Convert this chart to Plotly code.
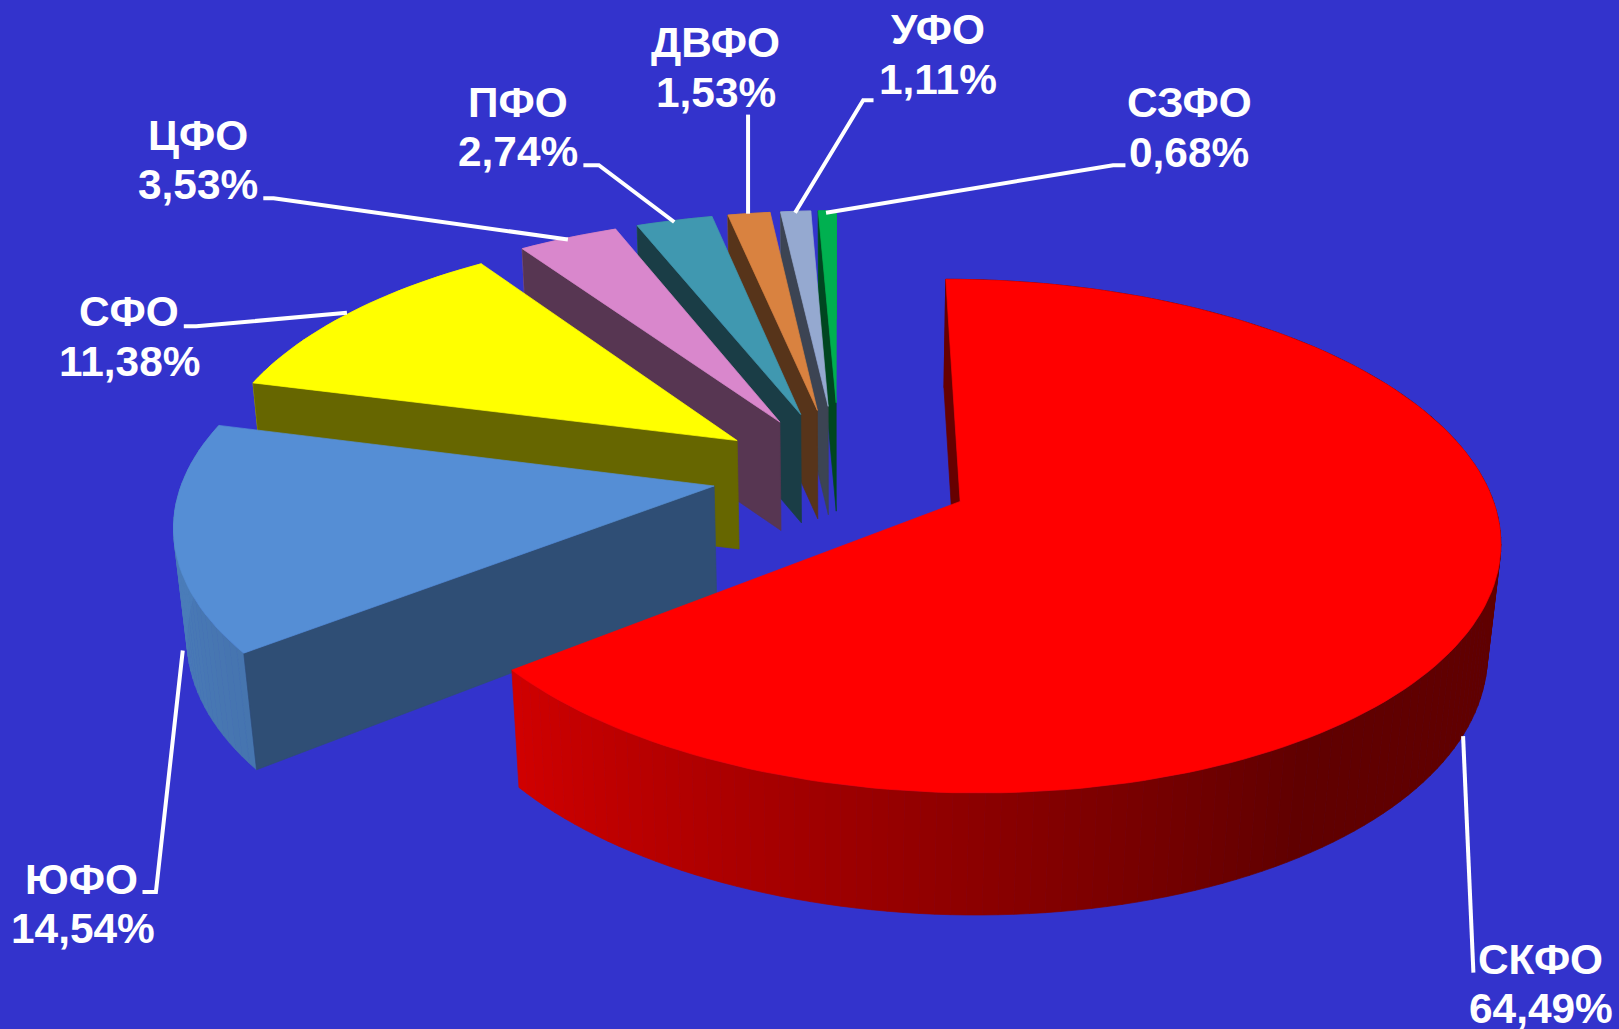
import numpy as np
import plotly.graph_objects as go

# ---- data ----
regions = ["СКФО", "ЮФО", "СФО", "ЦФО", "ПФО", "ДВФО", "УФО", "СЗФО"]
shares = [64.49, 14.54, 11.38, 3.53, 2.74, 1.53, 1.11, 0.68]
top_colors = ["#ff0000", "#558ed5", "#ffff00", "#d987cc", "#4098b0", "#d98240", "#95a9d0", "#00b050"]

# ---- styling / layout (reference-image units) ----
BG = "#3333cc"
W, H_PAGE = 1568.0, 996.6
CX, CY = 813.0, 459.0      # pie centre on screen
RX, RY = 513.0, 239.0      # projected radius
PERSP = 0.134              # perspective strength towards the back
DEPTH_PERSP = 0.02
explode = [0.25, 0.24, 0.24, 0.245, 0.26, 0.27, 0.285, 0.30]
radius = [0.992, 1.0, 1.0, 1.0, 0.985, 0.975, 0.96, 0.945]

name_pos = [(1492, 929), (79, 852), (125, 302), (192, 131), (502, 99), (693, 41), (908, 29), (1152, 99)]
value_pos = [(1492, 977), (80, 899), (125, 350), (192, 179), (502, 147), (693, 90), (908, 77), (1152, 148)]
leader_x = [[1417, 1427], [177, 151, 138], [336, 190, 178], [550, 265, 255],
            [653, 580, 565], [724.5, 724.5], [770, 836, 846], [800, 1078, 1090]]
leader_y = [[713, 942], [630, 864, 864], [303, 316, 316], [232, 192, 192],
            [215, 160, 160], [207, 111], [206, 97, 97], [206, 160, 160]]


def project(x, y, bottom=False):
    """Perspective projection of pie-plane coordinates to screen coordinates."""
    x, y = np.asarray(x, float), np.asarray(y, float)
    w = 1 + PERSP * y
    sx = CX + RX * x / (w + (DEPTH_PERSP if bottom else 0))
    sy = CY - RY * y / w
    if bottom:
        sy = sy + 105 - 12 * np.minimum(y, 0)
    return sx, sy


def shade(color, f):
    r, g, b = (int(color[i:i + 2], 16) for i in (1, 3, 5))
    return "#%02x%02x%02x" % (round(r * f), round(g * f), round(b * f))


def outer_factor(deg):
    return float(np.interp(deg, [147, 232, 260, 360], [0.375, 0.82, 0.87, 0.87]))


def wall_factor(deg):
    if deg < 1:
        return 0.4
    return float(np.interp(deg, [232, 284], [0.55, 0.4]))


def poly(xs, ys, color):
    return go.Scatter(x=list(xs), y=list(ys), mode="lines", fill="toself", fillcolor=color,
                      line=dict(color=color, width=0.7), hoverinfo="skip", showlegend=False)


# cumulative slice angles, clockwise from 12 o'clock
edges = np.concatenate([[0], np.cumsum(shares)]) / sum(shares) * 360.0
traces = []

# painter's order: the small far slices first, the big near slice last
for i in range(len(regions) - 1, -1, -1):
    a0, a1 = edges[i], edges[i + 1]
    mid = np.radians((a0 + a1) / 2)
    ox, oy = explode[i] * np.sin(mid), explode[i] * np.cos(mid)
    n = max(3, int((a1 - a0) / 1.5))
    th = np.linspace(a0, a1, n + 1)
    px = ox + radius[i] * np.sin(np.radians(th))
    py = oy + radius[i] * np.cos(np.radians(th))

    # outer rim, split in strips for the shading
    tx, ty = project(px, py)
    bx, by = project(px, py, bottom=True)
    for j in range(n):
        c = shade(top_colors[i], outer_factor((th[j] + th[j + 1]) / 2))
        traces.append(poly([tx[j], tx[j + 1], bx[j + 1], bx[j], tx[j]],
                           [ty[j], ty[j + 1], by[j + 1], by[j], ty[j]], c))

    # radial wall at the slice's start angle
    vtx, vty = project(ox, oy)
    vbx, vby = project(ox, oy, bottom=True)
    traces.append(poly([vtx, tx[0], bx[0], vbx, vtx], [vty, ty[0], by[0], vby, vty],
                       shade(top_colors[i], wall_factor(a0))))

    # top face
    traces.append(poly([vtx, *tx, vtx], [vty, *ty, vty], top_colors[i]))

# leader lines
for lx, ly in zip(leader_x, leader_y):
    traces.append(go.Scatter(x=lx, y=ly, mode="lines", line=dict(color="white", width=4),
                             hoverinfo="skip", showlegend=False))

fig = go.Figure(traces)

label_font = dict(family="Liberation Sans, Arial, sans-serif", size=42.4, color="white")
for name, val, (nx, ny), (vx, vy) in zip(regions, shares, name_pos, value_pos):
    fig.add_annotation(x=nx, y=ny, xref="x", yref="y", showarrow=False, text=f"<b>{name}</b>",
                       xanchor="center", yanchor="middle", font=label_font)
    value_text = f"{val:.2f}%".replace(".", ",")
    fig.add_annotation(x=vx, y=vy, xref="x", yref="y", showarrow=False, text=f"<b>{value_text}</b>",
                       xanchor="center", yanchor="middle", font=label_font)

fig.update_layout(
    width=1619, height=1029, margin=dict(l=0, r=0, t=0, b=0),
    paper_bgcolor=BG, plot_bgcolor=BG, showlegend=False,
    xaxis=dict(range=[0, W], visible=False, fixedrange=True),
    yaxis=dict(range=[H_PAGE, 0], visible=False, fixedrange=True),
)

fig.write_html("out.html", config={"displayModeBar": False},
               post_script="document.body.style.margin='0';document.documentElement.style.overflow='hidden';")
